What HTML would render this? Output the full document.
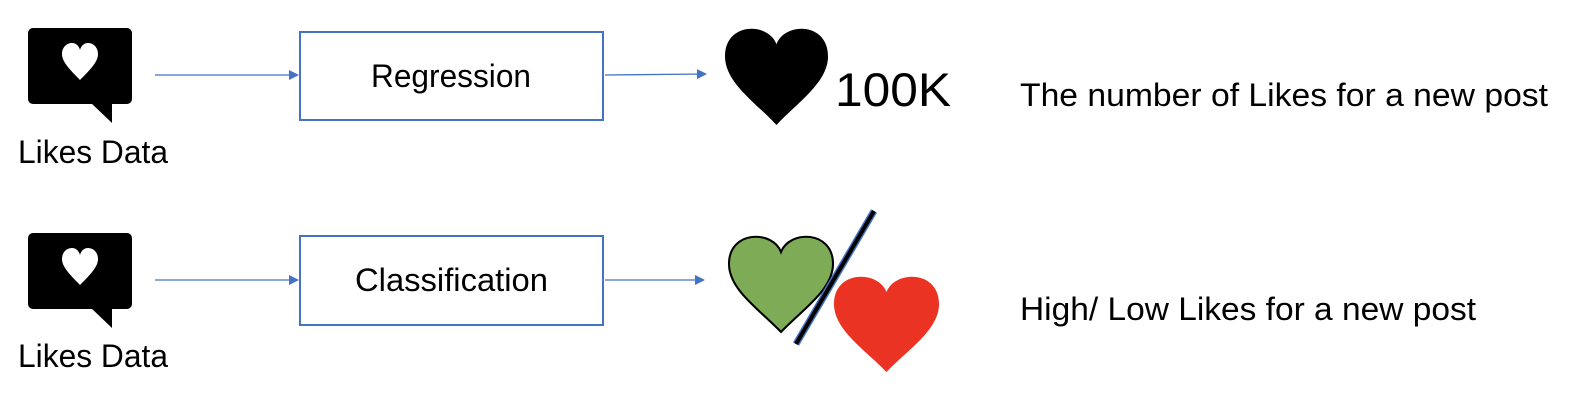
<!DOCTYPE html>
<html><head><style>
body{margin:0;width:1576px;height:404px;background:#fff;overflow:hidden;font-family:"Liberation Sans",sans-serif}
svg{position:absolute;left:0;top:0}
</style></head><body>
<svg width="1576" height="404" viewBox="0 0 1576 404">
<defs>
<marker id="a" markerWidth="10" markerHeight="10" refX="9" refY="5" orient="auto" markerUnits="userSpaceOnUse"><path d="M0,0 L10,5 L0,10z" fill="#4472C4"/></marker>
<g id="bub">
<rect x="28" y="0" width="104" height="76" rx="5" fill="#000"/>
<path d="M90,74 L112,74 L112,95z" fill="#000"/>
<path d="M80,52 C68,40 62,33 62,26 C62,19 67,15 72,15 C76,15 79,18 80,22 C81,18 84,15 88,15 C93,15 98,19 98,26 C98,33 92,40 80,52z" fill="#fff"/>
</g>
<path id="h" d="M50,20 C42,-2 0,-2 0,32 C0,58 30,78 50,100 C70,78 100,58 100,32 C100,-2 58,-2 50,20z"/>
</defs>
<use href="#bub" y="28"/>
<use href="#bub" y="233"/>
<g font-size="32" fill="#000" font-family="Liberation Sans,sans-serif" lengthAdjust="spacingAndGlyphs">
<text x="18" y="163" textLength="150" lengthAdjust="spacingAndGlyphs">Likes Data</text>
<text x="18" y="367" textLength="150" lengthAdjust="spacingAndGlyphs">Likes Data</text>
<text x="371" y="87" textLength="160" lengthAdjust="spacingAndGlyphs">Regression</text>
<text x="355" y="291" textLength="193" lengthAdjust="spacingAndGlyphs">Classification</text>
<text x="1020" y="106" textLength="528" lengthAdjust="spacingAndGlyphs">The number of Likes for a new post</text>
<text x="1020" y="320" textLength="456" lengthAdjust="spacingAndGlyphs">High/ Low Likes for a new post</text>
<text x="835" y="106" font-size="47" textLength="116" lengthAdjust="spacingAndGlyphs">100K</text>
</g>
<rect x="300" y="32" width="303" height="88" fill="none" stroke="#4472C4" stroke-width="2"/>
<rect x="300" y="236" width="303" height="89" fill="none" stroke="#4472C4" stroke-width="2"/>
<g stroke="#4472C4" stroke-width="1.3" marker-end="url(#a)">
<line x1="155" y1="75" x2="298" y2="75"/>
<line x1="605" y1="75" x2="706" y2="74"/>
<line x1="155" y1="280" x2="298" y2="280"/>
<line x1="605" y1="280" x2="704" y2="280"/>
</g>
<use href="#h" transform="translate(725,24) scale(1.03,1.01)" fill="#000"/>
<use href="#h" transform="translate(729,232) scale(1.04,1.0)" fill="#7EAB55" stroke="#000" stroke-width="2"/>
<line x1="796" y1="344" x2="874" y2="211" stroke="#4472C4" stroke-width="7"/>
<line x1="796" y1="344" x2="874" y2="211" stroke="#000" stroke-width="4"/>
<use href="#h" transform="translate(834,272) scale(1.05,1.0)" fill="#EA3323"/>
</svg>
</body></html>
